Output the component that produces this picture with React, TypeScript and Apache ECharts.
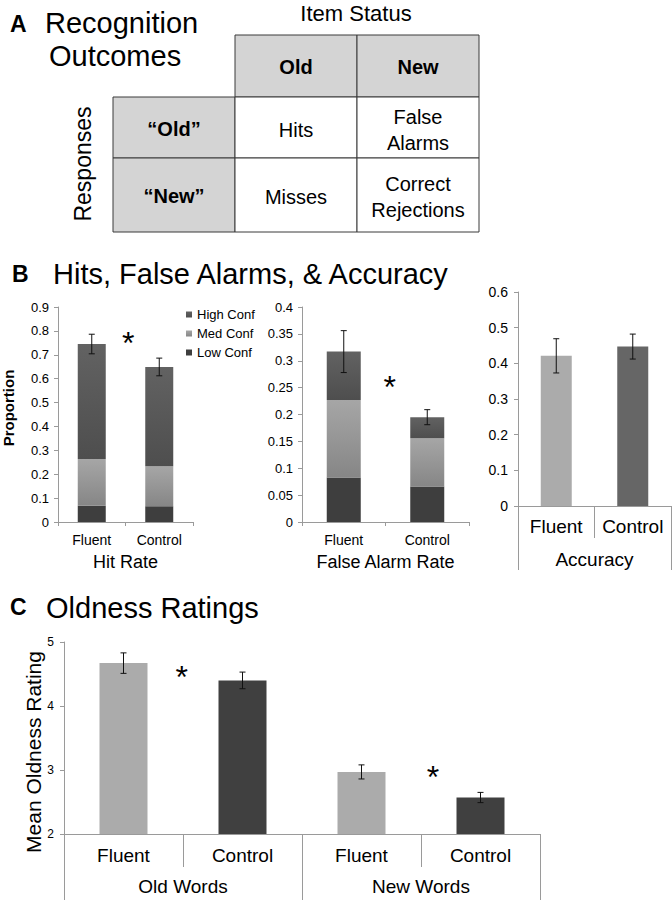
import { useEffect, useRef } from 'react';
import * as echarts from 'echarts';

const FONT = 'Arial, "Liberation Sans", Helvetica, sans-serif';
const AXIS = '#9a9a9a';

// ---- Panel A: table text ----
const itemStatus = ['Old', 'New'];
const responses = ['\u201cOld\u201d', '\u201cNew\u201d'];
const outcomes = [
  ['Hits', 'False\nAlarms'],
  ['Misses', 'Correct\nRejections'],
];

// ---- Panel B data ----
const conditions = ['Fluent', 'Control'];
const confLevels = ['High Conf', 'Med Conf', 'Low Conf'];
const hitLow = [0.068, 0.066];
const hitMed = [0.196, 0.167];
const hitHigh = [0.481, 0.416];
const hitErr = [0.041, 0.037];
const faLow = [0.083, 0.066];
const faMed = [0.144, 0.09];
const faHigh = [0.09, 0.039];
const faErr = [0.039, 0.014];
const accuracy = [0.421, 0.447];
const accuracyErr = [0.048, 0.035];

// ---- Panel C data ----
const ratingCats = ['Fluent', 'Control', 'Fluent', 'Control'];
const ratingGroups = ['Old Words', 'New Words'];
const ratings = [4.67, 4.4, 2.97, 2.57];
const ratingErr = [0.16, 0.13, 0.11, 0.08];

// significance markers: [fromIndex, toIndex, fraction between, yValue]
const hitStars = [[0, 1, 0.54, 0.78]];
const faStars = [[0, 1, 0.55, 0.265]];
const ratingStars = [
  [0, 1, 0.49, 4.56],
  [2, 3, 0.6, 3.0],
];

const lowColor = '#3e3e3e';
const medColor = new echarts.graphic.LinearGradient(0, 0, 0, 1, [
  { offset: 0, color: '#a6a6a6' },
  { offset: 1, color: '#868686' },
]);
const highColor = new echarts.graphic.LinearGradient(0, 0, 0, 1, [
  { offset: 0, color: '#626262' },
  { offset: 1, color: '#4e4e4e' },
]);
const fluentColor = '#ababab';
const accControlColor = '#666666';
const ratingControlColor = '#404040';

const errRender = (params: any, api: any) => {
  const x = api.value(0);
  const top = api.coord([x, api.value(2)]);
  const bot = api.coord([x, api.value(1)]);
  const hw = 3;
  const s = { stroke: '#111', lineWidth: 1 };
  return {
    type: 'group',
    children: [
      { type: 'line', shape: { x1: top[0], y1: top[1], x2: bot[0], y2: bot[1] }, style: s },
      { type: 'line', shape: { x1: top[0] - hw, y1: top[1], x2: top[0] + hw, y2: top[1] }, style: s },
      { type: 'line', shape: { x1: bot[0] - hw, y1: bot[1], x2: bot[0] + hw, y2: bot[1] }, style: s },
    ],
  };
};

const starRender = (params: any, api: any) => {
  const a = api.coord([api.value(0), api.value(3)]);
  const b = api.coord([api.value(1), api.value(3)]);
  const t = api.value(2);
  return {
    type: 'text',
    x: a[0] + (b[0] - a[0]) * t,
    y: a[1] + 7,
    style: {
      text: '*',
      fontSize: 32,
      fontFamily: FONT,
      fill: '#000',
      align: 'center',
      verticalAlign: 'middle',
    },
  };
};

const sum = (...arrs: number[][]) => arrs[0].map((_, i) => arrs.reduce((s, a) => s + a[i], 0));

function errData(vals: number[], errs: number[]) {
  return vals.map((v, i) => [i, v - errs[i], v + errs[i]]);
}

function catAxis(gridIndex: number, data: string[], fontSize: number, margin: number, tickLen: number) {
  return {
    type: 'category',
    gridIndex,
    data,
    position: 'bottom',
    axisLine: { show: true, lineStyle: { color: AXIS, width: 1 } },
    axisTick: { show: true, length: tickLen, alignWithLabel: false, lineStyle: { color: AXIS } },
    axisLabel: { interval: 0, fontSize, margin, color: '#000', fontFamily: FONT },
    splitLine: { show: false },
  };
}

function groupAxis(gridIndex: number, data: string[], fontSize: number, margin: number, tickLen: number) {
  return {
    type: 'category',
    gridIndex,
    data,
    position: 'bottom',
    axisLine: { show: false },
    axisTick: { show: tickLen > 0, length: tickLen, alignWithLabel: false, lineStyle: { color: AXIS } },
    axisLabel: { interval: 0, fontSize, margin, color: '#000', fontFamily: FONT },
    splitLine: { show: false },
  };
}

function valAxis(gridIndex: number, min: number, max: number, interval: number, fontSize: number, margin: number) {
  return {
    type: 'value',
    gridIndex,
    min,
    max,
    interval,
    axisLine: { show: true, lineStyle: { color: AXIS, width: 1 } },
    axisTick: { show: true, length: 4, lineStyle: { color: AXIS } },
    axisLabel: { fontSize, margin, color: '#000', fontFamily: FONT },
    splitLine: { show: false },
  };
}

function txt(text: string, x: number, y: number, fontSize: number, opts: any = {}) {
  return {
    type: 'text',
    x,
    y,
    rotation: opts.rotation || 0,
    silent: true,
    style: {
      text,
      fontSize,
      fontFamily: FONT,
      fontWeight: opts.bold ? 'bold' : 'normal',
      fill: '#000',
      align: opts.align || 'left',
      verticalAlign: 'middle',
      lineHeight: opts.lineHeight,
    },
  };
}

function buildTable() {
  const colX = [113, 235, 357, 479];
  const rowY = [35, 97, 158, 232];
  const gray = '#d4d4d4';
  const stroke = { stroke: '#3a3a3a', lineWidth: 1 };
  const els: any[] = [];
  itemStatus.forEach((t, c) => {
    const x0 = colX[c + 1];
    const w = colX[c + 2] - x0;
    els.push({ type: 'rect', shape: { x: x0, y: rowY[0], width: w, height: rowY[1] - rowY[0] }, style: { fill: gray, ...stroke } });
    els.push(txt(t, x0 + w / 2, (rowY[0] + rowY[1]) / 2 + 1, 20, { bold: true, align: 'center' }));
  });
  responses.forEach((t, r) => {
    const y0 = rowY[r + 1];
    const h = rowY[r + 2] - y0;
    els.push({ type: 'rect', shape: { x: colX[0], y: y0, width: colX[1] - colX[0], height: h }, style: { fill: gray, ...stroke } });
    els.push(txt(t, (colX[0] + colX[1]) / 2, y0 + h / 2 + 1, 20, { bold: true, align: 'center' }));
    outcomes[r].forEach((o, c) => {
      const x0 = colX[c + 1];
      const w = colX[c + 2] - x0;
      els.push({ type: 'rect', shape: { x: x0, y: y0, width: w, height: h }, style: { fill: '#ffffff', ...stroke } });
      els.push(txt(o, x0 + w / 2, y0 + h / 2 + 2, 20, { align: 'center', lineHeight: 26 }));
    });
  });
  return els;
}

export default function App() {
  const ref = useRef<HTMLDivElement>(null);
  useEffect(() => {
    document.body.style.margin = '0';
    if (!ref.current) return;
    const chart = echarts.init(ref.current, null, { renderer: 'svg' });
    const hitTotal = sum(hitLow, hitMed, hitHigh);
    const faTotal = sum(faLow, faMed, faHigh);

    const stackSeries = (xi: number, stack: string, low: number[], med: number[], high: number[], width: number) => [
      { name: 'Low Conf', type: 'bar', stack, xAxisIndex: xi, yAxisIndex: xi === 0 ? 0 : 1, data: low, barWidth: width, itemStyle: { color: lowColor } },
      { name: 'Med Conf', type: 'bar', stack, xAxisIndex: xi, yAxisIndex: xi === 0 ? 0 : 1, data: med, barWidth: width, itemStyle: { color: medColor } },
      { name: 'High Conf', type: 'bar', stack, xAxisIndex: xi, yAxisIndex: xi === 0 ? 0 : 1, data: high, barWidth: width, itemStyle: { color: highColor } },
    ];

    const option: any = {
      animation: false,
      backgroundColor: '#ffffff',
      textStyle: { fontFamily: FONT },
      grid: [
        { left: 58, top: 307, width: 135, height: 215 },
        { left: 302, top: 307, width: 167, height: 215 },
        { left: 518, top: 292, width: 153, height: 214 },
        { left: 64, top: 642, width: 476, height: 192 },
      ],
      legend: {
        data: confLevels.map((name) => ({ name, icon: 'rect' })),
        orient: 'vertical',
        left: 181,
        top: 303,
        itemWidth: 6,
        itemHeight: 6,
        itemGap: 6,
        selectedMode: false,
        textStyle: { fontSize: 13, fontFamily: FONT, color: '#000' },
      },
      xAxis: [
        catAxis(0, conditions, 14, 11, 4),
        catAxis(1, conditions, 14, 11, 4),
        catAxis(2, conditions, 19, 11, 32),
        groupAxis(2, ['Accuracy'], 19, 44, 64),
        catAxis(3, ratingCats, 19, 12, 33),
        groupAxis(3, ratingGroups, 19, 43, 66),
        groupAxis(0, ['Hit Rate'], 18, 31, 0),
        groupAxis(1, ['False Alarm Rate'], 18, 31, 0),
      ],
      yAxis: [
        valAxis(0, 0, 0.9, 0.1, 13, 9),
        valAxis(1, 0, 0.4, 0.05, 13, 9),
        valAxis(2, 0, 0.6, 0.1, 14, 10),
        valAxis(3, 2, 5, 1, 12, 10),
      ],
      series: [
        ...stackSeries(0, 'hit', hitLow, hitMed, hitHigh, 28),
        ...stackSeries(1, 'fa', faLow, faMed, faHigh, 34),
        {
          type: 'custom', name: 'hitErr', xAxisIndex: 0, yAxisIndex: 0,
          renderItem: errRender, encode: { x: 0, y: [1, 2] }, data: errData(hitTotal, hitErr), z: 10,
        },
        {
          type: 'custom', name: 'faErr', xAxisIndex: 1, yAxisIndex: 1,
          renderItem: errRender, encode: { x: 0, y: [1, 2] }, data: errData(faTotal, faErr), z: 10,
        },
        {
          type: 'bar', name: 'Accuracy', xAxisIndex: 2, yAxisIndex: 2, barWidth: 31,
          data: accuracy.map((v, i) => ({ value: v, itemStyle: { color: i === 0 ? fluentColor : accControlColor } })),
        },
        {
          type: 'custom', name: 'accErr', xAxisIndex: 2, yAxisIndex: 2,
          renderItem: errRender, encode: { x: 0, y: [1, 2] }, data: errData(accuracy, accuracyErr), z: 10,
        },
        {
          type: 'bar', name: 'Ratings', xAxisIndex: 4, yAxisIndex: 3, barWidth: 48,
          data: ratings.map((v, i) => ({ value: v, itemStyle: { color: i % 2 === 0 ? fluentColor : ratingControlColor } })),
        },
        {
          type: 'custom', name: 'ratingErr', xAxisIndex: 4, yAxisIndex: 3,
          renderItem: errRender, encode: { x: 0, y: [1, 2] }, data: errData(ratings, ratingErr), z: 10,
        },
        {
          type: 'custom', name: 'hitStar', xAxisIndex: 0, yAxisIndex: 0,
          renderItem: starRender, encode: { x: 0, y: 3 }, data: hitStars, z: 10,
        },
        {
          type: 'custom', name: 'faStar', xAxisIndex: 1, yAxisIndex: 1,
          renderItem: starRender, encode: { x: 0, y: 3 }, data: faStars, z: 10,
        },
        {
          type: 'custom', name: 'ratingStar', xAxisIndex: 4, yAxisIndex: 3,
          renderItem: starRender, encode: { x: 0, y: 3 }, data: ratingStars, z: 10,
        },
      ],
      graphic: [
        txt('A', 10, 24, 23, { bold: true }),
        txt('Recognition', 45, 23, 29),
        txt('Outcomes', 49, 56, 29),
        txt('Item Status', 356, 13, 22, { align: 'center' }),
        txt('Responses', 83, 164, 23, { align: 'center', rotation: Math.PI / 2 }),
        ...buildTable(),
        txt('B', 12, 274, 23, { bold: true }),
        txt('Hits, False Alarms, & Accuracy', 53, 274, 29),
        txt('Proportion', 8, 408, 15, { bold: true, align: 'center', rotation: Math.PI / 2 }),
        txt('C', 10, 607, 23, { bold: true }),
        txt('Oldness Ratings', 46, 608, 29),
        txt('Mean Oldness Rating', 33, 752, 21, { align: 'center', rotation: Math.PI / 2 }),
      ],
    };
    chart.setOption(option);
    return () => chart.dispose();
  }, []);
  return <div ref={ref} style={{ width: 672, height: 900 }} />;
}
